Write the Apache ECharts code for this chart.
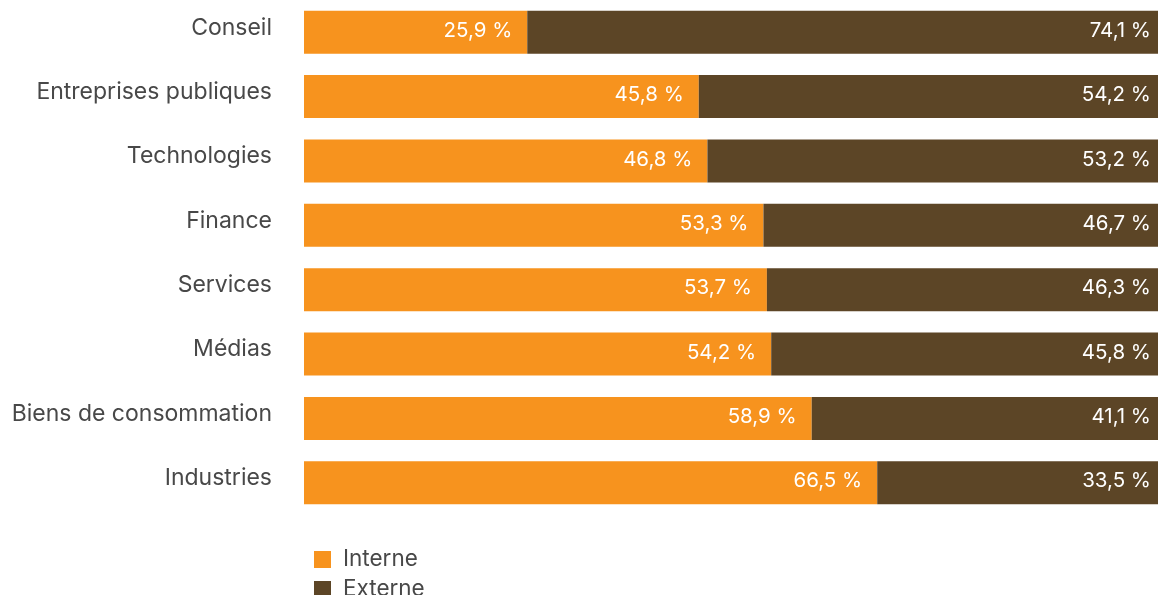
<!DOCTYPE html>
<html>
<head>
<meta charset="utf-8">
<script src="https://cdn.jsdelivr.net/npm/echarts@6/dist/echarts.min.js"></script>
<style>
  html, body { margin: 0; padding: 0; background: #fff; }
  #chart { width: 1158px; height: 595px; }
</style>
</head>
<body>
<div id="chart"></div>
<script>
const categories = ['Conseil', 'Entreprises publiques', 'Technologies', 'Finance', 'Services', 'Médias', 'Biens de consommation', 'Industries'];
const interne = [25.9, 45.8, 46.8, 53.3, 53.7, 54.2, 58.9, 66.5];
const externe = [74.1, 54.2, 53.2, 46.7, 46.3, 45.8, 41.1, 33.5];
const seriesNames = ['Interne', 'Externe'];

const FONT = 'Inter, "Liberation Sans", Arial, sans-serif';
const TEXT = '#484848';
const fmt = p => p.value.toFixed(1).replace('.', ',') + ' %';

// one legend per row so the two entries stack vertically below the plot
const legendRow = (name, top) => ({
  orient: 'vertical',
  left: 309, top: top,
  itemWidth: 17, itemHeight: 17, itemGap: 0,
  icon: 'rect',
  textStyle: { fontSize: 22.5, color: TEXT, fontFamily: FONT, padding: [0, 0, 0, 7] },
  data: [name]
});

const segmentLabel = {
  show: true, position: 'insideRight', distance: 15, offset: [0, -1.5],
  color: '#fff', fontSize: 20.5, fontFamily: FONT, formatter: fmt
};

const chart = echarts.init(document.getElementById('chart'), null, { renderer: 'canvas' });
chart.setOption({
  animation: false,
  textStyle: { fontFamily: FONT },
  // the bars run slightly past the right edge of the page
  grid: { left: 304, width: 862, top: 0, height: 515, containLabel: false, outerBoundsMode: 'none' },
  legend: [legendRow(seriesNames[0], 543), legendRow(seriesNames[1], 573)],
  xAxis: { type: 'value', min: 0, max: 100, show: false },
  yAxis: {
    type: 'category', data: categories, inverse: true,
    axisLine: { show: false }, axisTick: { show: false },
    axisLabel: { fontSize: 23, color: TEXT, margin: 32, fontFamily: FONT, verticalAlign: 'bottom', lineHeight: 9 }
  },
  series: [
    {
      name: seriesNames[0], type: 'bar', stack: 'total', data: interne,
      barWidth: 43,
      itemStyle: { color: '#F7931E' },
      label: segmentLabel
    },
    {
      name: seriesNames[1], type: 'bar', stack: 'total', data: externe,
      barWidth: 43,
      itemStyle: { color: '#5C4526' },
      label: segmentLabel
    }
  ]
});
</script>
</body>
</html>
